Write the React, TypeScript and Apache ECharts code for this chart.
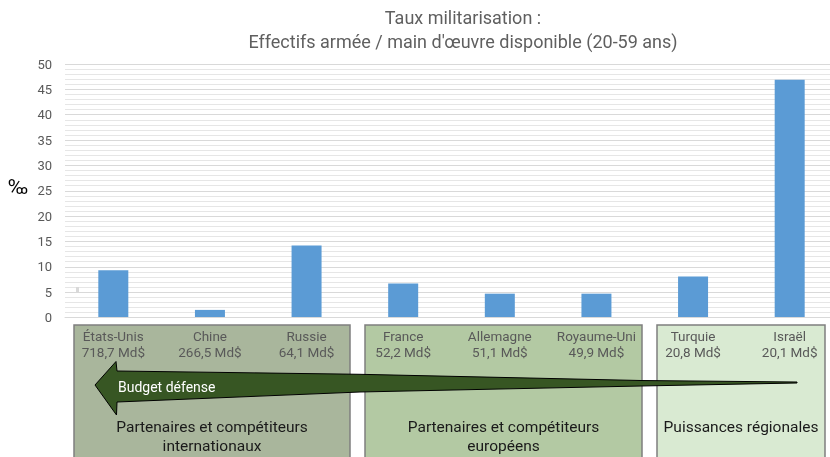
import React, { useEffect, useRef } from "react";
import * as echarts from "echarts";

const countries = ["États-Unis", "Chine", "Russie", "France", "Allemagne", "Royaume-Uni", "Turquie", "Israël"];
const budgets = ["718,7 Md$", "266,5 Md$", "64,1 Md$", "52,2 Md$", "51,1 Md$", "49,9 Md$", "20,8 Md$", "20,1 Md$"];
const militarisation = [9.3, 1.5, 14.2, 6.7, 4.7, 4.7, 8.1, 46.9];
const titleLines = ["Taux militarisation :", "Effectifs armée / main d'œuvre disponible (20-59 ans)"];
const groupNames = ["Partenaires et compétiteurs\ninternationaux", "Partenaires et compétiteurs\neuropéens", "Puissances régionales"];
const arrowLabel = "Budget défense";
const unitLabel = "‰";

const FONT = "Roboto, 'Noto Sans', sans-serif";

export default function App() {
  const ref = useRef<HTMLDivElement>(null);
  useEffect(() => {
    if (!ref.current) return;
    const chart = echarts.init(ref.current, null, { renderer: "svg" });
    const boxes = [
      { x: 74, w: 276, fill: "#a9b69c" },
      { x: 365, w: 277, fill: "#b3c9a3" },
      { x: 657, w: 168, fill: "#d9ead2" },
    ];
    const graphics: any[] = [];
    boxes.forEach((b, i) => {
      graphics.push({
        type: "rect",
        z: 1,
        shape: { x: b.x, y: 325, width: b.w, height: 150 },
        style: { fill: b.fill, stroke: "#7f7f7f", lineWidth: 1.5 },
      });
      graphics.push({
        type: "text",
        z: 30,
        x: b.x + b.w / 2,
        y: i === 2 ? 427 : 436.5,
        style: {
          text: groupNames[i],
          fill: "#1a1a1a",
          font: `15.5px ${FONT}`,
          textAlign: "center",
          textVerticalAlign: "middle",
          lineHeight: 19,
        },
      });
    });
    graphics.push({
      type: "polygon",
      z: 20,
      shape: {
        points: [
          [797, 382],
          [641, 380.5],
          [360, 374.3],
          [117, 371],
          [116, 361.5],
          [95, 385],
          [116.5, 415],
          [117, 402],
          [360, 392],
          [641, 386],
          [797, 383],
        ],
      },
      style: { fill: "#375623", stroke: "#000", lineWidth: 1 },
    });
    graphics.push({
      type: "text",
      z: 30,
      x: 118,
      y: 387,
      style: { text: arrowLabel, fill: "#fff", font: `14px ${FONT}`, textVerticalAlign: "middle" },
    });
    graphics.push({
      type: "text",
      z: 30,
      x: 463,
      y: 29.5,
      style: {
        text: titleLines.join("\n"),
        fill: "#5f5f5f",
        font: `18px ${FONT}`,
        textAlign: "center",
        textVerticalAlign: "middle",
        lineHeight: 24,
      },
    });
    graphics.push({
      type: "text",
      z: 30,
      x: 18,
      y: 187,
      style: { text: unitLabel, fill: "#000", font: `21px ${FONT}`, textAlign: "center", textVerticalAlign: "middle" },
    });
    graphics.push({
      type: "rect",
      z: 30,
      shape: { x: 76, y: 287, width: 3, height: 5 },
      style: { fill: "#d9d9d9" },
    });

    chart.setOption({
      animation: false,
      grid: { left: 65, top: 64, right: 0, height: 253.5, containLabel: false },
      xAxis: {
        type: "category",
        data: countries.map((c, i) => c + "\n" + budgets[i]),
        z: 10,
        axisLine: { show: true, lineStyle: { color: "#d9d9d9", width: 1 } },
        axisTick: { show: false },
        axisLabel: {
          color: "#595959",
          fontFamily: FONT,
          fontSize: 13.5,
          lineHeight: 16,
          margin: 10,
          interval: 0,
        },
      },
      yAxis: {
        type: "value",
        min: 0,
        max: 50,
        interval: 5,
        axisLine: { show: false },
        axisTick: { show: false },
        axisLabel: { color: "#595959", fontFamily: FONT, fontSize: 13, margin: 13 },
        splitLine: { show: true, lineStyle: { color: "#d9d9d9", width: 1 } },
        minorTick: { show: false, splitNumber: 5 },
        minorSplitLine: { show: true, lineStyle: { color: "#e6e6e6", width: 1 } },
      },
      series: [
        {
          type: "bar",
          data: militarisation,
          barWidth: 30,
          itemStyle: { color: "#5b9bd5" },
        },
      ],
      graphic: graphics,
    });
    return () => chart.dispose();
  }, []);
  return (
    <div style={{ position: "fixed", left: 0, top: 0, width: 830, height: 457, overflow: "hidden" }}>
      <div ref={ref} style={{ width: 838, height: 457 }} />
    </div>
  );
}
